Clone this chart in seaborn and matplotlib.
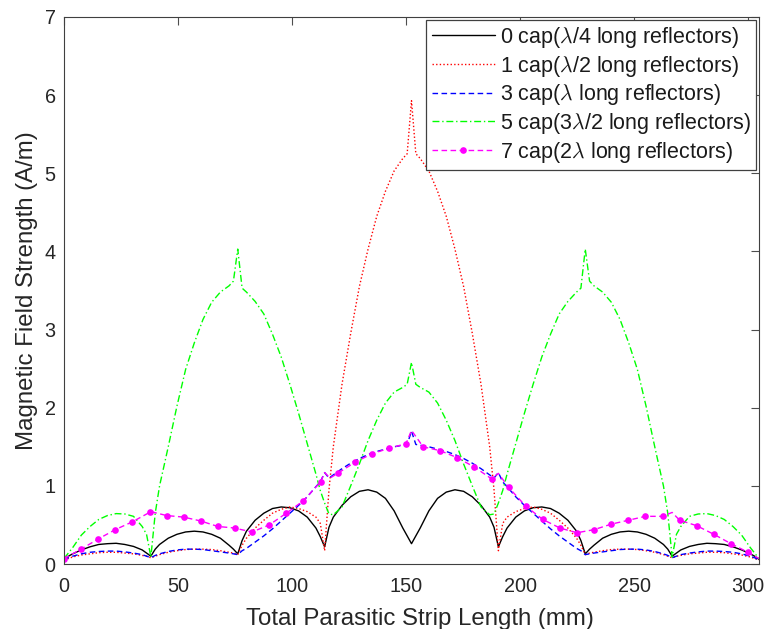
import matplotlib
matplotlib.use("Agg")
import matplotlib.pyplot as plt
import seaborn as sns

# ---------------- data ----------------
x_mm = [0.00, 1.91, 3.81, 7.62, 11.43, 15.24, 19.05, 22.86, 26.67, 30.48, 34.29, 36.20,
        38.10, 40.01, 41.91, 45.72, 49.53, 53.34, 57.15, 60.96, 64.77, 68.58, 72.39, 74.30,
        76.20, 78.11, 80.01, 83.82, 87.63, 91.44, 95.25, 99.06, 102.87, 106.68, 110.49, 112.40,
        114.30, 116.21, 118.11, 121.92, 125.73, 129.54, 133.35, 137.16, 140.97, 144.78, 148.59, 150.50,
        152.40,
        154.30, 156.21, 160.02, 163.83, 167.64, 171.45, 175.26, 179.07, 182.88, 186.69, 188.59, 190.50,
        192.40, 194.31, 198.12, 201.93, 205.74, 209.55, 213.36, 217.17, 220.98, 224.79, 226.69, 228.60,
        230.50, 232.41, 236.22, 240.03, 243.84, 247.65, 251.46, 255.27, 259.08, 262.89, 264.79, 266.70,
        268.60, 270.51, 274.32, 278.13, 281.94, 285.75, 289.56, 293.37, 297.18, 300.99, 302.89, 304.80]

h_0cap = [0.06, 0.10, 0.13, 0.18, 0.22, 0.25, 0.26, 0.265, 0.25, 0.225, 0.18, 0.14,
          0.10, 0.19, 0.25, 0.33, 0.38, 0.41, 0.42, 0.41, 0.38, 0.33, 0.24, 0.19,
          0.13, 0.30, 0.42, 0.56, 0.65, 0.71, 0.73, 0.72, 0.68, 0.60, 0.46, 0.35,
          0.22, 0.47, 0.60, 0.75, 0.86, 0.93, 0.95, 0.92, 0.84, 0.68, 0.46, 0.36,
          0.26,
          0.36, 0.46, 0.68, 0.84, 0.92, 0.95, 0.93, 0.86, 0.75, 0.60, 0.47, 0.22,
          0.35, 0.46, 0.60, 0.68, 0.72, 0.73, 0.71, 0.65, 0.56, 0.42, 0.30, 0.13,
          0.19, 0.24, 0.33, 0.38, 0.41, 0.42, 0.41, 0.38, 0.33, 0.25, 0.19, 0.10,
          0.14, 0.18, 0.225, 0.25, 0.265, 0.26, 0.25, 0.22, 0.18, 0.13, 0.10, 0.06]

h_1cap = [0.05, 0.07, 0.09, 0.115, 0.13, 0.145, 0.15, 0.15, 0.14, 0.13, 0.11, 0.10,
          0.08, 0.10, 0.12, 0.15, 0.17, 0.185, 0.19, 0.19, 0.185, 0.17, 0.15, 0.14,
          0.12, 0.24, 0.33, 0.46, 0.56, 0.65, 0.70, 0.73, 0.71, 0.67, 0.60, 0.52,
          0.17, 0.95, 1.50, 2.30, 2.95, 3.55, 4.03, 4.45, 4.77, 5.03, 5.19, 5.25,
          5.93,
          5.25, 5.19, 5.03, 4.77, 4.45, 4.03, 3.55, 2.95, 2.30, 1.50, 0.95, 0.17,
          0.52, 0.60, 0.67, 0.71, 0.73, 0.70, 0.65, 0.56, 0.46, 0.33, 0.24, 0.12,
          0.14, 0.15, 0.17, 0.185, 0.19, 0.19, 0.185, 0.17, 0.15, 0.12, 0.10, 0.08,
          0.10, 0.11, 0.13, 0.14, 0.15, 0.15, 0.145, 0.13, 0.115, 0.09, 0.07, 0.05]

h_3cap = [0.05, 0.08, 0.10, 0.13, 0.15, 0.16, 0.165, 0.165, 0.155, 0.14, 0.12, 0.10,
          0.08, 0.11, 0.13, 0.16, 0.18, 0.19, 0.19, 0.185, 0.17, 0.155, 0.14, 0.13,
          0.12, 0.17, 0.20, 0.28, 0.36, 0.45, 0.55, 0.65, 0.75, 0.86, 0.99, 1.05,
          1.17, 1.10, 1.14, 1.22, 1.29, 1.35, 1.40, 1.44, 1.47, 1.50, 1.52, 1.53,
          1.70,
          1.53, 1.52, 1.50, 1.47, 1.44, 1.40, 1.35, 1.29, 1.22, 1.14, 1.10, 1.17,
          1.05, 0.99, 0.86, 0.75, 0.65, 0.55, 0.45, 0.36, 0.28, 0.20, 0.17, 0.12,
          0.13, 0.14, 0.155, 0.17, 0.185, 0.19, 0.19, 0.18, 0.16, 0.13, 0.11, 0.08,
          0.10, 0.12, 0.14, 0.155, 0.165, 0.165, 0.16, 0.15, 0.13, 0.10, 0.08, 0.05]

h_5cap = [0.07, 0.14, 0.21, 0.37, 0.48, 0.57, 0.62, 0.645, 0.64, 0.61, 0.48, 0.38,
          0.09, 0.65, 1.00, 1.50, 2.02, 2.49, 2.83, 3.13, 3.35, 3.48, 3.56, 3.62,
          4.03, 3.53, 3.48, 3.36, 3.20, 2.94, 2.65, 2.30, 1.93, 1.54, 1.15, 0.94,
          0.78, 0.64, 0.63, 0.73, 1.00, 1.28, 1.58, 1.84, 2.06, 2.20, 2.26, 2.30,
          2.58,
          2.30, 2.26, 2.20, 2.06, 1.84, 1.58, 1.28, 1.00, 0.73, 0.63, 0.64, 0.78,
          0.94, 1.15, 1.54, 1.93, 2.30, 2.65, 2.94, 3.20, 3.36, 3.48, 3.53, 4.03,
          3.62, 3.56, 3.48, 3.35, 3.13, 2.83, 2.49, 2.02, 1.50, 1.00, 0.65, 0.09,
          0.38, 0.48, 0.61, 0.64, 0.645, 0.62, 0.57, 0.48, 0.37, 0.21, 0.14, 0.07]

x_7cap = [0, 7.5, 15, 22.5, 30, 37.5, 38.1, 45, 52.5, 60, 67.5, 75, 76.2, 82.5, 90, 97.5,
          105, 112.5, 114.3, 116.7, 120, 127.5, 135, 142.5, 150, 152.4, 157.5, 165, 172.5,
          180, 187.5, 190.5, 195, 202.5, 210, 217.5, 225, 232.5, 240, 247.5, 255, 262.5,
          266.7, 270, 277.5, 285, 292.5, 300, 304.8]
h_7cap = [0.07, 0.19, 0.32, 0.44, 0.54, 0.66, 0.67, 0.62, 0.60, 0.55, 0.48, 0.46, 0.45, 0.41,
          0.50, 0.65, 0.81, 1.05, 1.17, 1.10, 1.16, 1.30, 1.41, 1.48, 1.54, 1.71, 1.50, 1.45,
          1.36, 1.24, 1.09, 1.16, 0.98, 0.74, 0.57, 0.46, 0.40, 0.44, 0.51, 0.56, 0.61, 0.61,
          0.66, 0.56, 0.49, 0.38, 0.26, 0.15, 0.07]

labels = ["0 cap($\\lambda$/4 long reflectors)",
          "1 cap($\\lambda$/2 long reflectors)",
          "3 cap($\\lambda$ long reflectors)",
          "5 cap(3$\\lambda$/2 long reflectors)",
          "7 cap(2$\\lambda$ long reflectors)"]
x_ticks = [0, 50, 100, 150, 200, 250, 300]
y_ticks = [0, 1, 2, 3, 4, 5, 6, 7]

# ---------------- styling ----------------
sns.set_theme(style="white")
plt.rcParams['font.family'] = ['Liberation Sans', 'DejaVu Sans']
plt.rcParams['mathtext.fontset'] = 'cm'

fig = plt.figure(figsize=(7.68, 6.29), dpi=100)
ax = fig.add_axes([64 / 768, 1 - 564 / 629, (759 - 64) / 768, (564 - 17) / 629])

common = dict(ax=ax, sort=False, estimator=None, errorbar=None, linewidth=1.0)
sns.lineplot(x=x_mm, y=h_0cap, color="black", linestyle="-", label=labels[0], **common)
sns.lineplot(x=x_mm, y=h_1cap, color="#ff0000", linestyle=(0, (1, 1.6)), label=labels[1], **common)
sns.lineplot(x=x_mm, y=h_3cap, color="#0000ff", linestyle=(0, (4, 2.5)), label=labels[2], **common)
sns.lineplot(x=x_mm, y=h_5cap, color="#00ff00", linestyle=(0, (5, 2, 1, 2)), label=labels[3], **common)
mark_idx = [i for i, v in enumerate(x_7cap) if abs(v / 7.5 - round(v / 7.5)) < 1e-6]
sns.lineplot(x=x_7cap, y=h_7cap, color="#ff00ff", linestyle=(0, (4, 2.5)), marker="o",
             markersize=4.8, markeredgewidth=0, markevery=mark_idx, label=labels[4], **common)

ax.set_xlim(0, 304.8)
ax.set_ylim(0, 7)
ax.set_xticks(x_ticks)
ax.set_yticks(y_ticks)
ax.tick_params(direction="in", top=True, right=True, length=6, width=0.8,
               color="0.3", labelsize=14.3, labelcolor="0.15")
ax.tick_params(axis="x", pad=9)
ax.tick_params(axis="y", pad=6)
for s in ax.spines.values():
    s.set_color("0.25")
    s.set_linewidth(0.8)
ax.set_xlabel("Total Parasitic Strip Length (mm)", fontsize=17.3, color="0.15", labelpad=3)
ax.set_ylabel("Magnetic Field Strength (A/m)", fontsize=17.3, color="0.15", labelpad=5)
ax.xaxis.set_label_coords(0.512, -0.08)

leg = ax.legend(loc="upper right", fontsize=15.5, handlelength=2.93, handletextpad=0.25,
                labelspacing=0.17, borderpad=0.25, borderaxespad=0.12, frameon=True,
                fancybox=False, framealpha=1, edgecolor="0.25")
leg.get_frame().set_linewidth(0.9)
for t in leg.get_texts():
    t.set_color("0.1")

fig.savefig("out.png", dpi=100)
